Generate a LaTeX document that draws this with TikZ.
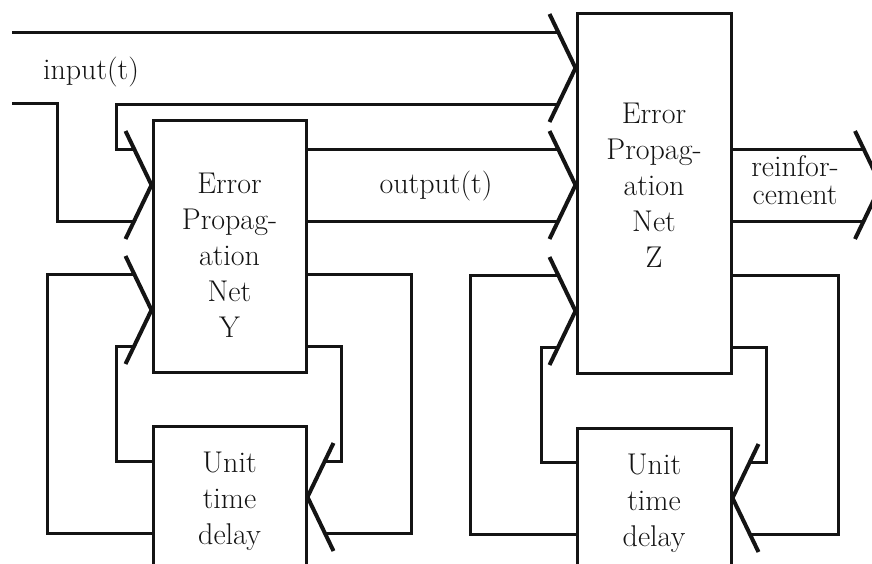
\documentclass[tikz,border=0pt]{standalone}
\usetikzlibrary{positioning, calc}
\definecolor{inkblack}{HTML}{141414}

\begin{document}
\begin{tikzpicture}[
    x=0.5pt, y=-0.5pt,
    netbox/.style={
        rectangle, draw=inkblack, line width=1.5pt,
        minimum width=76.5pt, minimum height=126pt, inner sep=0pt,
        font=\fontsize{15}{18}\selectfont, text=inkblack, align=center
    },
    boxtext/.style={
        font=\fontsize{15}{18}\selectfont, text=inkblack, align=center
    },
    tagtext/.style={
        font=\fontsize{15}{14}\selectfont, text=inkblack, align=center
    },
    wire/.style={draw=inkblack, line width=1.5pt},
    chev/.pic={
        \draw[inkblack, line width=2pt, line join=round]
            (-26,-54) -- (0,0) -- (-26,54);
        \coordinate (-up) at (-17,-36);
        \coordinate (-lo) at (-17,36);
    }
]
\useasboundingbox (0,0) rectangle (872,563);
\clip (0,0) rectangle (872,563);

% --- Net Y and its delay ---
\node[netbox] (Y) at (229.5,246)
      [label={[boxtext, yshift=-4.75pt]center:Error\\Propag-\\ation\\Net\\Y}] {};
\node[netbox, minimum height=75pt, below=25.5pt of Y] (YD)
      {Unit\\time\\delay};

% --- Net Z and its delay ---
\node[netbox, minimum width=77pt, minimum height=180pt] (Z) at (654,193)
      [label={[boxtext, yshift=3.75pt]center:Error\\Propag-\\ation\\Net\\Z}] {};
\node[netbox, minimum width=77pt, minimum height=75pt, below=26pt of Z] (ZD)
      {Unit\\time\\delay};

% --- Arrow heads ---
\pic (cZa) at (Z.west |- 0,68) {chev};
\pic (cZb) at (Z.west |- 0,185) {chev};
\pic (cZc) at (Z.west |- 0,311) {chev};
\pic (cYa) at (Y.west |- 0,185) {chev};
\pic (cYb) at (Y.west |- 0,310) {chev};
\pic[xscale=-1] (cYD) at (YD.east |- 0,497) {chev};
\pic[xscale=-1] (cZD) at (ZD.east |- 0,498) {chev};
\pic (cR) at (881,185) {chev};

% --- Labels ---
\coordinate (in1) at (12,32);
\coordinate (in2) at (12,103);
\node[tagtext, anchor=base] (inlbl) at (91,79) {input(t)};
\node[tagtext, anchor=base] (outlbl) at (436,193) {output(t)};
\node[tagtext] (rflbl) at (795,180) {reinfor-\\cement};

% --- Inputs ---
\draw[wire] (in1) -- (cZa-up);
\draw[wire] (in2) -- ++(45,0) |- (cYa-lo);
\draw[wire] (cYa-up) -- ++(-18,0) |- (cZa-lo);

% --- Y to Z, Z out ---
\draw[wire] (Y.east |- cZb-up) -- (cZb-up);
\draw[wire] (Y.east |- cZb-lo) -- (cZb-lo);
\draw[wire] (Z.east |- cR-up) -- (cR-up);
\draw[wire] (Z.east |- cR-lo) -- (cR-lo);

% --- Loop through Y delay ---
\draw[wire] (Y.east |- cYb-up) -- ++(104,0) |- (cYD-lo);
\draw[wire] (Y.east |- cYb-lo) -- ++(34,0) |- (cYD-up);
\draw[wire] (YD.west |- cYD-up) -- ++(-35,0) |- (cYb-lo);
\draw[wire] (YD.west |- cYD-lo) -- ++(-104,0) |- (cYb-up);

% --- Loop through Z delay ---
\draw[wire] (Z.east |- cZc-up) -- ++(106,0) |- (cZD-lo);
\draw[wire] (Z.east |- cZc-lo) -- ++(34,0) |- (cZD-up);
\draw[wire] (ZD.west |- cZD-up) -- ++(-34,0) |- (cZc-lo);
\draw[wire] (ZD.west |- cZD-lo) -- ++(-105,0) |- (cZc-up);
\end{tikzpicture}
\end{document}
